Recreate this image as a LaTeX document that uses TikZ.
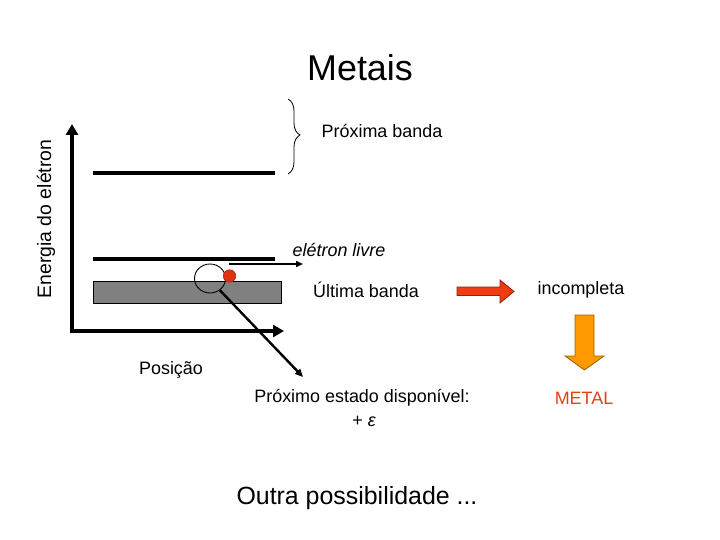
\documentclass[tikz,border=0pt]{standalone}
\usepackage{fontspec}
\setmainfont{Liberation Sans}
\usetikzlibrary{arrows.meta,decorations.pathreplacing,shapes.geometric}
\definecolor{bandgray}{RGB}{128,128,128}
\definecolor{dotred}{RGB}{225,50,20}
\definecolor{arrred}{RGB}{240,60,20}
\definecolor{arrredline}{RGB}{150,30,10}
\definecolor{arrorange}{RGB}{255,153,0}
\definecolor{arrorangeline}{RGB}{160,95,0}
\definecolor{metalred}{RGB}{225,65,25}
\begin{document}
\begin{tikzpicture}[x=1bp,y=-1bp,
  txt/.style={inner sep=0pt,font=\fontsize{18}{21}\selectfont},
  axis/.style={line width=4bp,-{Triangle[length=11bp,width=12bp]}},
  level/.style={line width=4bp},
  thinarrow/.style={line width=2bp,-{Triangle[length=7bp,width=6bp]}}]
\useasboundingbox (0,0) rectangle (720,540);
% title
\node[inner sep=0pt,font=\fontsize{36}{40}\selectfont] (title) at (360,68) {Metais};
% axes
\coordinate (orig) at (72,331);
\coordinate (ytop) at (72,124);
\coordinate (xend) at (284,331);
\draw[axis] ([yshift=-2bp]orig) -- (ytop);
\draw[axis] ([xshift=-2bp]orig) -- (xend);
\node[txt,font=\fontsize{19.5}{22}\selectfont,rotate=90] (energia) at (46,219) {Energia do elétron};
\node[txt] (posicao) at (171,370) {Posição};
% levels
\coordinate (u1) at (93,173); \coordinate (u2) at (275,173);
\coordinate (l1) at (93,259); \coordinate (l2) at (275,259);
\draw[level] (u1) -- (u2);
\draw[level] (l1) -- (l2);
\node[draw=black,fill=bandgray,line width=0.8bp,minimum width=188bp,minimum height=22bp,inner sep=0pt,anchor=north west] (band) at (93,281) {};
% brace
\coordinate (b1) at (288,99); \coordinate (b2) at (288,174);
\draw[line width=0.8bp,decorate,decoration={brace,amplitude=12bp,aspect=0.48}] (b1) -- (b2);
\node[txt] (proxima) at (382,131) {Próxima banda};
% circle and electron
\node[draw=black,ellipse,line width=0.9bp,minimum width=31bp,minimum height=29bp,inner sep=0pt] (circ) at (210,278.5) {};
\node[circle,fill=dotred,draw=dotred!70!black,line width=0.5bp,minimum size=12.5bp,inner sep=0pt] (dot) at (229.5,276) {};
% free electron
\coordinate (fa) at (229,264);
\coordinate (fb) at (303,264);
\draw[thinarrow] (fa) -- (fb);
\node[txt,font=\fontsize{18}{21}\selectfont\itshape] (livre) at (339,250) {elétron livre};
\node[txt] (ultima) at (366,290) {Última banda};
% next state arrow
\node[txt] (estado) at (362,398) {Próximo estado disponível:};
\node[txt] (eps) at (364,421) {+ \itshape ε};
\coordinate (tip) at (303,377);
\draw[line width=2.4bp,-{Triangle[length=8bp,width=7bp]}] (circ.-50) -- (tip);
% red block arrow
\filldraw[fill=arrred,draw=arrredline,line width=0.8bp]
  (457,287) -- (500,287) -- (500,280) -- (514,291.5) -- (500,303) -- (500,295.5) -- (457,295.5) -- cycle;
\node[txt] (incompleta) at (581,290) {incompleta};
% orange block arrow
\filldraw[fill=arrorange,draw=arrorangeline,line width=0.8bp]
  (575,315) -- (594,315) -- (594,356) -- (604,356) -- (584.5,370) -- (565,356) -- (575,356) -- cycle;
\node[txt,text=metalred] (metal) at (584,398) {METAL};
\node[inner sep=0pt,font=\fontsize{25}{28}\selectfont] (outra) at (357,498) {Outra possibilidade ...};
\end{tikzpicture}
\end{document}
